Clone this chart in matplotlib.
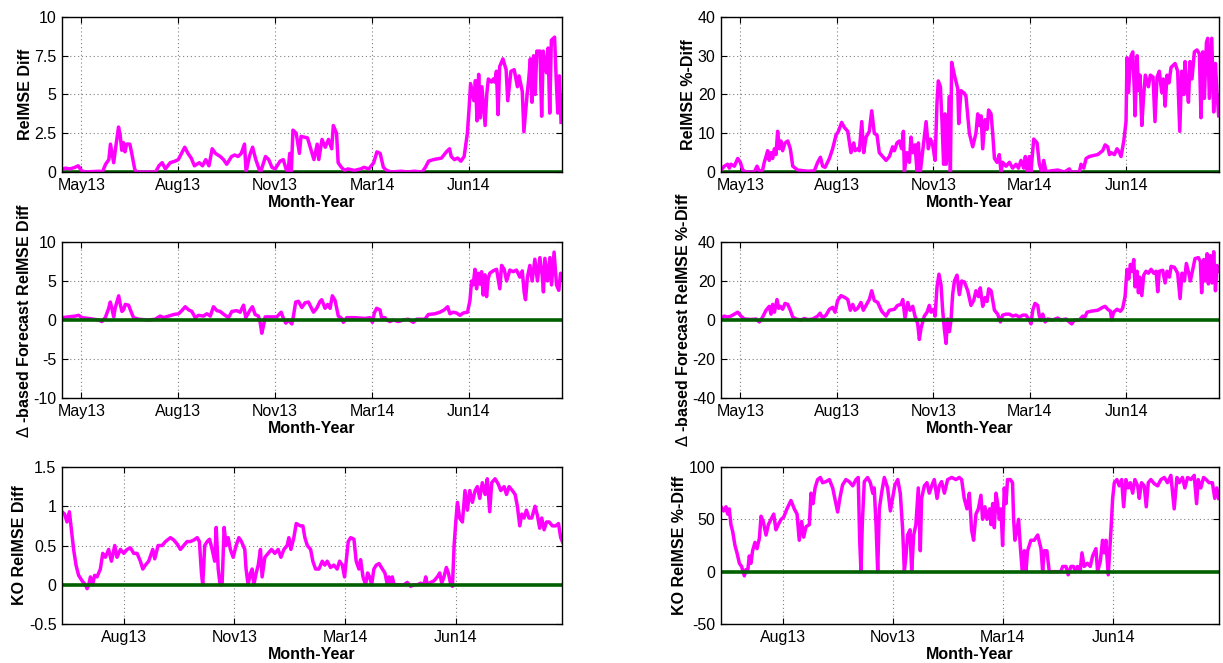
import matplotlib
matplotlib.use('Agg')
import matplotlib.pyplot as plt

''' RelMSE differences over time, six panels (MATLAB style figure) '''

plt.rcParams['font.family'] = ['Liberation Sans', 'DejaVu Sans']

# x tick labels (trading-day index positions below)
month_labels = ['May13', 'Aug13', 'Nov13', 'Mar14', 'Jun14']
month_days = [12, 72, 132, 192, 252]

# (trading day, value)
relmse_diff = [
    (0, 0.15), (2, 0.25), (5, 0.2), (8, 0.3), (10, 0.4), (12, 0.1), (14, 0.0), (23, 0.05), (25, 0.0),
    (27, 0.5), (29, 0.8), (30, 1.8), (32, 0.6), (33, 1.4), (35, 2.9), (36, 2.4), (37, 1.4), (38, 1.9),
    (39, 1.3), (40, 1.8), (42, 1.8), (43, 1.3), (45, 0.2), (46, 0.0), (58, 0.0), (60, 0.4), (62, 0.6),
    (64, 0.2), (67, 0.6), (70, 0.7), (72, 0.8), (74, 1.2), (76, 1.6), (78, 1.2), (80, 0.9), (82, 0.4),
    (85, 0.6), (87, 0.4), (89, 0.8), (91, 0.4), (93, 1.5), (95, 1.2), (98, 1.0), (100, 0.8), (102, 0.5),
    (105, 1.0), (107, 1.1), (109, 1.0), (111, 1.2), (113, 1.8), (114, 0.0), (116, 1.0), (118, 1.6),
    (120, 0.8), (122, 0.2), (123, 0.0), (126, 1.0), (128, 0.8), (130, 0.3), (132, 0.2), (135, 0.7),
    (137, 0.8), (139, 0.1), (140, 0.0), (141, 1.2), (142, 0.0), (143, 2.7), (145, 2.5), (147, 1.2),
    (148, 2.3), (152, 2.2), (156, 0.8), (158, 1.8), (159, 0.8), (161, 2.1), (163, 1.6), (165, 2.1),
    (167, 1.5), (168, 3.0), (170, 2.5), (171, 0.6), (173, 0.3), (175, 0.1), (177, 0.2), (181, 0.1),
    (185, 0.2), (187, 0.3), (190, 0.2), (193, 0.6), (195, 1.3), (197, 1.2), (199, 0.3), (201, 0.1),
    (204, 0.0), (210, 0.05), (214, 0.0), (218, 0.05), (223, 0.0), (225, 0.3), (227, 0.7), (230, 0.8),
    (235, 0.9), (238, 1.3), (240, 1.5), (241, 1.0), (243, 0.8), (245, 0.9), (247, 0.7), (249, 1.0),
    (251, 2.5), (252, 4.0), (253, 5.7), (255, 4.6), (256, 5.9), (257, 3.3), (258, 6.3), (259, 3.5),
    (260, 5.5), (262, 3.0), (263, 5.0), (264, 6.0), (266, 5.8), (267, 6.0), (268, 5.8), (269, 6.5),
    (270, 3.7), (271, 6.8), (273, 7.3), (275, 6.6), (276, 4.6), (278, 6.5), (280, 6.6), (282, 5.5),
    (283, 6.2), (285, 5.2), (286, 2.6), (288, 5.0), (289, 6.0), (290, 7.3), (291, 4.5), (292, 7.5),
    (293, 5.0), (294, 7.8), (296, 7.8), (297, 3.6), (298, 7.8), (300, 6.4), (301, 8.0), (302, 3.8),
    (303, 8.5), (305, 8.7), (306, 6.0), (307, 3.8), (308, 6.2), (309, 3.2)]

relmse_pct = [
    (0, 0.5), (2.1, 1.5), (4.1, 2.0), (5.2, 1.0), (6.2, 2.0), (8.3, 1.5), (10.4, 3.5), (12, 2.5),
    (13.5, 0.5), (15.5, 0.0), (20.7, 0.0), (22.4, 1.5), (23.8, 0.2), (25.9, 0.5), (26.9, 2.5), (28, 4.0),
    (29, 5.5), (30, 3.0), (31.1, 5.0), (32.1, 3.5), (33.2, 6.0), (34.2, 4.5), (35.2, 10.5), (36.3, 6.0),
    (37.3, 8.0), (38.3, 5.5), (39.8, 7.5), (41.5, 8.0), (43.1, 6.0), (44.6, 1.5), (47.7, 0.5), (51.8, 0.3),
    (53.9, 0.2), (58, 0.3), (60.1, 2.5), (61.8, 3.8), (63.2, 1.5), (64.7, 1.2), (67.4, 3.5), (69.4, 6.0),
    (71.5, 9.5), (73, 10.5), (75, 12.8), (76.7, 11.5), (78.8, 10.5), (80.8, 5.0), (82.5, 7.5), (83.3, 5.5),
    (85, 6.0), (86, 5.5), (87.5, 13.0), (88.7, 5.0), (90.2, 9.0), (92.2, 10.5), (93.7, 15.8), (95.3, 10.0),
    (97, 9.5), (98.4, 5.0), (100.5, 4.0), (102.6, 3.0), (104.7, 4.0), (106.7, 6.5), (107.8, 5.5),
    (109.4, 7.5), (110.9, 8.0), (112.3, 6.0), (113.4, 10.5), (114, 0.0), (115.6, 5.0), (117.1, 2.5),
    (118.1, 9.0), (119.2, 5.0), (120.6, 7.0), (121.9, 0.0), (122.7, 7.5), (123.9, 0.0), (126, 7.5),
    (127.5, 13.0), (128.9, 6.0), (130.2, 8.5), (131.6, 7.0), (133.1, 3.0), (134.3, 18.0), (135.1, 23.5),
    (136.4, 22.0), (137.4, 13.0), (138.4, 2.0), (139.3, 15.0), (139.9, 2.0), (140.9, 5.0), (142, 19.5),
    (142.6, 0.0), (143.4, 28.3), (145.1, 25.0), (147.2, 21.5), (147.8, 12.5), (149.2, 21.0), (151.3, 20.3),
    (152.3, 19.5), (154.4, 10.0), (156.5, 6.5), (158.5, 10.0), (159.6, 15.0), (160.6, 12.0), (161.7, 14.5),
    (162.7, 6.0), (164.1, 13.5), (165.4, 11.0), (166.4, 16.0), (167.9, 15.0), (168.9, 10.0), (170, 3.5),
    (171.6, 2.5), (173, 4.5), (174.1, 0.0), (175.1, 2.5), (177.2, 1.5), (179.3, 2.5), (181.3, 1.0),
    (183.4, 2.0), (184.9, 1.0), (186.5, 3.0), (188.2, 1.0), (189.2, 4.0), (190.3, 0.0), (191.7, 4.0),
    (192.7, 0.0), (194.4, 8.5), (196.5, 7.5), (197.9, 2.0), (199.4, 0.0), (200.6, 3.0), (202.1, 0.0),
    (205.2, 0.3), (209.3, 0.5), (213.5, 0.0), (216.6, 0.8), (217.6, 0.0), (222.8, 0.0), (223.8, 2.0),
    (225.5, 1.0), (227, 3.5), (229, 4.0), (234.2, 4.5), (237.3, 5.5), (238.8, 7.0), (240.4, 6.5),
    (241.5, 4.5), (242.5, 5.0), (244.6, 4.5), (246.2, 6.0), (247.7, 5.0), (248.7, 4.0), (250.4, 8.0),
    (251.8, 13.0), (252.4, 29.5), (253.3, 20.5), (254.3, 27.0), (254.9, 30.0), (256, 31.0), (257, 20.5),
    (257.4, 14.5), (258.7, 30.0), (259.5, 21.0), (260.5, 25.0), (261.6, 12.0), (262.8, 20.0),
    (263.8, 25.0), (265.7, 22.0), (266.9, 25.0), (268.6, 24.5), (269.8, 13.0), (271.1, 24.5),
    (272.5, 26.0), (274, 20.5), (275, 24.0), (276.1, 17.0), (277.3, 25.0), (278.5, 23.0), (279.8, 27.0),
    (282.3, 28.0), (283.9, 26.0), (285.2, 10.5), (286.4, 26.0), (287.7, 20.0), (288.5, 28.5),
    (289.5, 23.0), (290.6, 18.0), (291.6, 28.5), (292.8, 24.0), (294.3, 31.0), (295.9, 31.5),
    (297.4, 30.5), (298.4, 14.0), (299.5, 31.0), (300.5, 19.0), (301.8, 33.5), (302.6, 34.5),
    (303.6, 19.0), (305.1, 34.5), (306.3, 15.5), (307.4, 28.0), (308.4, 20.0), (309.4, 14.5)]

delta_diff = [
    (0, 0.3), (4.1, 0.4), (8.2, 0.5), (10.3, 0.6), (12.4, 0.3), (16.5, 0.2), (19.6, 0.1), (22.7, 0.0),
    (24.7, -0.2), (26.8, 0.3), (28.9, 1.5), (29.9, 2.3), (30.9, 1.5), (32, 0.4), (33, 1.6), (35.1, 3.1),
    (36.1, 2.0), (37.1, 1.1), (38.1, 1.3), (39.2, 2.0), (41.2, 1.9), (42.9, 1.0), (44.3, 0.3), (47.4, 0.1),
    (53.6, 0.0), (57.7, 0.1), (60.8, 0.5), (62.9, 0.3), (66, 0.5), (69.1, 0.7), (72.2, 0.8), (74.2, 1.2),
    (76.3, 1.7), (78.4, 1.3), (80.4, 1.1), (82.5, 0.3), (84.5, 0.6), (87.6, 0.5), (89.7, 0.8), (91.8, 0.5),
    (93.8, 1.7), (95.9, 1.2), (97.9, 1.1), (101, 0.6), (103.1, 0.3), (105.2, 1.1), (108.2, 1.2),
    (110.3, 1.0), (112.4, 1.9), (113.8, 0.3), (116.5, 1.3), (117.9, 1.7), (119.6, 0.7), (121.6, 0.5),
    (122.7, -0.3), (123.7, -1.7), (124.7, -0.8), (125.8, 0.4), (129.9, 0.4), (133, 0.4), (135.7, 1.0),
    (137.1, 0.2), (138.6, -0.4), (140.2, 0.0), (142.3, -0.5), (143.3, 0.5), (144.7, 2.3), (146.4, 2.4),
    (148.5, 1.6), (150.5, 2.2), (152.6, 2.3), (155.7, 1.0), (157.7, 1.5), (159.8, 2.4), (160.8, 2.6),
    (162.9, 1.5), (164.5, 2.0), (166, 1.5), (167.4, 3.1), (169.1, 2.5), (171.1, 0.5), (173.2, 0.2),
    (174.2, -0.3), (176.3, 0.3), (181.4, 0.3), (187.6, 0.2), (190.7, 0.3), (192.2, -0.3), (193.4, 0.9),
    (194.8, 1.5), (196.9, 1.3), (197.9, 0.3), (200, 0.3), (201, 0.0), (203.1, -0.2), (205.2, 0.0),
    (208.2, -0.2), (211.3, 0.0), (214.4, 0.1), (217.5, -0.3), (219.6, 0.1), (224.7, 0.1), (226.8, 0.7),
    (230.9, 0.8), (234, 1.0), (236.7, 1.3), (238.8, 1.7), (240.2, 0.8), (242.3, 1.0), (244.3, 0.9),
    (246.4, 0.6), (248.5, 0.9), (251.1, 1.0), (252.6, 2.5), (253.6, 5.0), (254.6, 4.5), (255.7, 6.5),
    (256.7, 4.0), (257.7, 6.0), (258.8, 4.6), (259.8, 6.2), (260.8, 3.2), (261.9, 5.8), (262.9, 3.0),
    (263.9, 5.3), (264.9, 6.0), (267, 6.3), (269.1, 6.5), (271.1, 4.0), (272.2, 7.0), (273.8, 6.5),
    (275.3, 5.0), (277.3, 6.4), (279.4, 6.2), (281.4, 6.4), (283.5, 5.5), (285, 6.3), (286.2, 3.5),
    (287, 2.6), (288.2, 5.5), (289.7, 7.0), (291.1, 5.0), (292.8, 7.8), (294.4, 5.0), (295.9, 8.0),
    (297.3, 5.8), (298.1, 3.6), (299, 7.9), (300.6, 5.0), (302.1, 8.0), (303.1, 4.5), (304.7, 8.7),
    (306.2, 4.5), (307.6, 3.8), (308.7, 6.0), (309.3, 5.3)]

delta_pct = [
    (0, 1.0), (2.1, 2.0), (4.1, 1.5), (6.2, 2.0), (8.3, 3.0), (10.4, 4.0), (12.4, 2.0), (14.5, 0.5),
    (18.7, 0.3), (21.8, 0.5), (23.8, -1.0), (25.9, 1.5), (28, 5.0), (30, 7.0), (31.1, 3.0), (32.1, 8.0),
    (33.2, 4.0), (34.8, 10.5), (35.9, 6.0), (36.9, 7.0), (38.3, 5.5), (39.8, 8.5), (41.5, 8.0), (43.1, 5.0),
    (44.6, 1.5), (46.6, 0.5), (49.7, 0.0), (51.8, 0.8), (53.9, 0.2), (57, 0.5), (60.1, 2.0), (61.6, 3.5),
    (63.2, 1.0), (65.3, 2.5), (67.4, 5.5), (69.4, 6.5), (70.9, 4.0), (72.5, 10.0), (74.6, 12.5),
    (77.1, 11.5), (78.8, 10.5), (80.4, 5.0), (81.9, 8.0), (83.3, 5.0), (85, 6.0), (87, 9.0), (88.5, 5.0),
    (90.2, 7.5), (92.2, 10.5), (93.7, 15.0), (95.3, 10.0), (97.4, 9.0), (99.9, 4.5), (102.6, 2.0),
    (104.7, 5.0), (107.8, 5.5), (109.8, 7.5), (111.9, 8.0), (113, 10.5), (114.4, 1.0), (116.1, 9.0),
    (117.5, 5.0), (119.2, 7.0), (120.6, 2.0), (122.3, -2.0), (123.3, -10.0), (124.4, -4.0), (126.4, 2.0),
    (128.1, 4.0), (129.5, 7.5), (130.6, 4.0), (132.2, 5.5), (133.1, 2.0), (134.3, 17.0), (135.5, 23.5),
    (136.8, 18.0), (137.8, 5.0), (138.9, -5.0), (139.9, -12.0), (140.9, 0.5), (142, -6.0), (143, 0.0),
    (144, 13.0), (145.1, 20.0), (146.7, 23.0), (148.2, 13.0), (149.6, 20.0), (151.3, 19.5), (153.4, 15.0),
    (155.4, 7.5), (157.1, 10.0), (158.5, 15.0), (160, 12.0), (161.2, 16.5), (162.7, 7.0), (164.1, 11.5),
    (165.4, 9.5), (166.4, 16.0), (167.9, 15.0), (170, 5.0), (172, 3.0), (173.7, -1.0), (175.1, 2.5),
    (177.2, 3.0), (179.3, 3.0), (181.3, 2.0), (183.4, 2.5), (185.5, 1.5), (187.6, 2.5), (189.6, 2.5),
    (191.7, 0.0), (192.7, -2.0), (193.8, 5.0), (195.2, 8.5), (196.9, 7.5), (197.9, 2.0), (199, 0.0),
    (200, 3.0), (201.5, -1.0), (203.1, 0.5), (206.2, 0.0), (209.3, 1.0), (211.4, 0.0), (214.5, 0.5),
    (216.6, -1.0), (218, -2.0), (219.7, 0.0), (222.8, 0.0), (224.9, 2.0), (225.9, 1.0), (227.6, 4.0),
    (230, 4.5), (234.2, 5.0), (237.3, 6.5), (238.8, 7.0), (240.4, 5.5), (242.1, 4.5), (242.9, 0.0),
    (244.1, 4.0), (246.2, 5.5), (248.3, 4.5), (249.7, 6.0), (251.2, 12.0), (252.4, 26.0), (253.5, 21.0),
    (254.5, 28.5), (255.5, 25.0), (256.6, 31.0), (257.4, 17.0), (258.7, 25.0), (259.5, 14.0),
    (260.3, 22.0), (261.6, 12.5), (262.8, 23.0), (264.2, 25.0), (265.7, 24.0), (267.4, 26.0),
    (269, 24.0), (270.5, 25.0), (271.5, 14.5), (272.5, 25.0), (274.6, 25.5), (276.1, 19.0), (277.3, 25.0),
    (278.8, 22.0), (279.8, 27.5), (281.9, 27.0), (283.9, 24.0), (285.4, 11.0), (286.6, 24.0),
    (288.1, 20.0), (289.3, 29.0), (290.8, 24.0), (291.8, 20.0), (293.3, 26.0), (294.7, 31.5),
    (296.8, 32.0), (298, 30.0), (298.8, 14.0), (300.1, 31.0), (300.9, 20.0), (302.2, 34.0), (303, 18.5),
    (304.2, 33.0), (305.3, 19.0), (306.3, 35.0), (307.4, 15.0), (308.4, 28.0), (309.4, 25.0)]

ko_diff = [
    (38.5, 0.93), (39.9, 0.9), (41.2, 0.8), (42.5, 0.93), (43.6, 0.7), (44.8, 0.45), (46.1, 0.25),
    (47.5, 0.12), (49.4, 0.05), (51.2, 0.0), (52.1, -0.05), (53, 0.0), (53.9, 0.1), (55.1, 0.0),
    (56.2, 0.12), (57.5, 0.1), (59.3, 0.2), (60.6, 0.4), (62, 0.35), (63.8, 0.45), (65.3, 0.3),
    (67.1, 0.5), (68.3, 0.35), (70.2, 0.45), (72, 0.4), (73.8, 0.45), (75.6, 0.47), (77.4, 0.4),
    (79.2, 0.4), (81, 0.3), (82.3, 0.2), (83.7, 0.25), (85.5, 0.3), (87.7, 0.45), (88.8, 0.33),
    (90.6, 0.5), (92.8, 0.5), (94.6, 0.55), (97.3, 0.6), (99.1, 0.57), (100.9, 0.52), (102.7, 0.45),
    (104.5, 0.5), (106.3, 0.55), (108.1, 0.55), (110, 0.57), (111.8, 0.6), (113, 0.55), (114.1, 0.15),
    (114.8, 0.0), (115.9, 0.5), (117.2, 0.55), (118.5, 0.58), (119.9, 0.45), (121.3, 0.3), (122.1, 0.73),
    (123.2, 0.2), (124.2, 0.0), (125.3, 0.0), (126.4, 0.73), (127.5, 0.5), (128.6, 0.6), (129.8, 0.45),
    (131.3, 0.35), (132.9, 0.5), (134.4, 0.6), (135.8, 0.55), (137.6, 0.45), (138.3, 0.2), (139.4, 0.0),
    (140.7, 0.15), (141.6, 0.2), (142.5, 0.0), (143.8, 0.15), (144.9, 0.25), (146.1, 0.45), (147, 0.1),
    (148.5, 0.35), (150.3, 0.4), (152.1, 0.45), (153.9, 0.4), (155.7, 0.45), (157.2, 0.35), (158.8, 0.45),
    (160.6, 0.5), (161.5, 0.6), (162.6, 0.45), (164.2, 0.6), (165.5, 0.78), (167.8, 0.75), (169.1, 0.75),
    (170.2, 0.6), (171.5, 0.5), (173.3, 0.45), (174.5, 0.3), (176, 0.2), (177.8, 0.2), (179.6, 0.3),
    (181, 0.25), (182.3, 0.3), (184.1, 0.22), (185.9, 0.25), (187.7, 0.2), (189, 0.3), (190.5, 0.25),
    (191.7, 0.1), (192.6, 0.3), (193.7, 0.55), (195, 0.6), (196.8, 0.58), (198, 0.3), (199.5, 0.2),
    (200.4, 0.32), (201.7, 0.1), (203.1, 0.0), (204.2, 0.15), (205.3, 0.1), (206.4, 0.0), (207.6, 0.2),
    (208.9, 0.25), (210.4, 0.27), (212.2, 0.2), (213.6, 0.15), (214.9, 0.0), (215.8, 0.1), (216.7, 0.0),
    (217.6, 0.1), (218.5, 0.0), (223.9, 0.0), (225.7, 0.03), (227.5, -0.02), (229.3, 0.0), (231.2, 0.0),
    (233, 0.02), (234.8, 0.0), (235.7, 0.1), (236.6, 0.0), (238.4, 0.03), (240.2, 0.05), (242, 0.1),
    (243.3, 0.15), (244.4, 0.02), (245.6, 0.1), (246.9, 0.22), (248, 0.15), (249.3, 0.0), (250.2, -0.02),
    (251.1, 0.5), (252, 0.8), (252.9, 1.05), (254.1, 0.85), (255.6, 0.8), (257, 1.2), (258.3, 0.95),
    (259.6, 1.2), (261, 1.05), (262.5, 1.2), (263.7, 1.25), (265, 1.1), (266.4, 1.3), (267.9, 1.15),
    (269.1, 1.35), (270.4, 0.93), (271.5, 1.3), (273.3, 1.35), (275.1, 1.28), (276.4, 1.2), (278.2, 1.25),
    (279.5, 1.15), (280.9, 1.25), (282.7, 1.2), (284.2, 1.15), (285.4, 1.0), (286.7, 0.75), (287.8, 0.9),
    (289, 0.85), (290.3, 0.95), (291.7, 0.85), (293.2, 0.85), (295, 1.0), (296.3, 0.88), (297.5, 0.72),
    (298.6, 0.85), (299.9, 0.7), (301.2, 0.8), (302.6, 0.8), (304.4, 0.75), (306.2, 0.75), (307.7, 0.78),
    (308.9, 0.6), (309.8, 0.55)]

ko_pct = [
    (38.5, 62), (40, 58), (41.2, 62), (42.1, 55), (43, 60), (43.9, 45), (44.9, 38), (46.1, 25), (47.2, 18),
    (48.5, 8), (49.7, 5), (51.2, -4), (52.1, 2), (53, 0), (53.9, 15), (54.8, 8), (55.7, 20), (57, 28),
    (58.1, 22), (59.4, 32), (60.3, 53), (61.5, 48), (63, 35), (64.3, 45), (65.7, 50), (67.2, 55), (68.4, 40),
    (69.7, 45), (71.2, 50), (72.6, 52), (74.4, 60), (76.6, 68), (78.4, 60), (79.9, 55), (81.1, 30),
    (82.4, 48), (83.5, 33), (84.8, 43), (86.6, 45), (87.5, 75), (88.6, 65), (89.7, 80), (91.1, 88),
    (92.6, 90), (93.8, 85), (95.6, 86), (97.5, 88), (99.3, 80), (100.5, 70), (102, 57), (103.4, 72),
    (104.7, 83), (106.5, 88), (108.3, 86), (110.2, 82), (112, 88), (113.2, 90), (114, 30), (114.7, 0),
    (115.4, 45), (116.5, 86), (118.3, 90), (119.8, 85), (121.1, 75), (121.9, 80), (122.9, 45), (123.8, 0),
    (124.7, 60), (125.9, 75), (127.4, 90), (129.2, 80), (130.7, 58), (131.9, 70), (133.2, 83), (134.7, 88),
    (136.1, 75), (137.4, 40), (138.3, 0), (139.2, 15), (140.1, 35), (141.4, 40), (142.3, 0), (143.4, 35),
    (144.6, 45), (145.9, 80), (147, 20), (147.7, 70), (149.2, 82), (150.6, 85), (151.9, 75), (153.2, 82),
    (154.6, 88), (156.1, 70), (157.3, 82), (158.6, 86), (160.1, 75), (161.9, 88), (164.1, 90), (166.4, 88),
    (168.2, 90), (169.5, 88), (170.9, 70), (172.4, 60), (173.7, 75), (174.9, 40), (176, 30), (177.3, 55),
    (178.6, 60), (180, 73), (180.9, 50), (182.2, 62), (183.3, 50), (184.7, 60), (185.5, 45), (186.4, 65),
    (187.3, 42), (188.2, 75), (189.1, 65), (190, 50), (190.9, 60), (191.8, 25), (192.7, 80), (193.6, 65),
    (194.5, 88), (196, 88), (197.2, 85), (197.8, 50), (198.5, 30), (199.6, 40), (200.5, 50), (201.4, 25),
    (202.5, 0), (203.6, 20), (204.5, 0), (205.4, 20), (207.2, 30), (209, 30), (210.9, 35), (212.7, 22),
    (213.6, 0), (214.5, 20), (215.9, 20), (217.2, 0), (218.1, 0), (223.5, 0), (224.5, 5), (226.3, 5),
    (227.5, -3), (229, 5), (230.4, 5), (231.4, 0), (232.6, 5), (234, 0), (235, 18), (236.2, 5), (238, 8),
    (239.5, 5), (240.8, 15), (242.6, 22), (243.5, 0), (245, 10), (246.2, 30), (247.1, 18), (248, 30),
    (249.3, -3), (250.8, 40), (251.7, 70), (252.6, 85), (254, 88), (255.3, 82), (256.6, 88), (257.7, 62),
    (258.9, 88), (260.2, 80), (261.3, 85), (262.6, 75), (263.8, 88), (265.3, 82), (266.2, 70), (267.4, 85),
    (268.9, 82), (270, 62), (271.1, 85), (272.5, 88), (274.4, 84), (276.2, 82), (278, 88), (279.8, 90),
    (281.6, 85), (283.4, 92), (285.2, 60), (286.7, 90), (287.9, 85), (289.7, 90), (291, 80), (292.5, 90),
    (294.3, 88), (296.1, 92), (297.4, 65), (298.3, 88), (299.7, 80), (301.2, 90), (302.6, 88), (304.2, 85),
    (306, 85), (307.3, 70), (308.4, 80), (309.4, 70)]

# y axis limits / ticks per panel
panels = [
    (relmse_diff, 'RelMSE Diff', (0, 10), [0, 2.5, 5, 7.5, 10], ['0', '2.5', '5', '7.5', '10']),
    (relmse_pct, 'RelMSE %-Diff', (0, 40), [0, 10, 20, 30, 40], ['0', '10', '20', '30', '40']),
    (delta_diff, r'$\Delta$ -based Forecast RelMSE Diff', (-10, 10), [-10, -5, 0, 5, 10],
     ['-10', '-5', '0', '5', '10']),
    (delta_pct, r'$\Delta$ -based Forecast RelMSE %-Diff', (-40, 40), [-40, -20, 0, 20, 40],
     ['-40', '-20', '0', '20', '40']),
    (ko_diff, 'KO RelMSE Diff', (-0.5, 1.5), [-0.5, 0, 0.5, 1, 1.5], ['-0.5', '0', '0.5', '1', '1.5']),
    (ko_pct, 'KO RelMSE %-Diff', (-50, 100), [-50, 0, 50, 100], ['-50', '0', '50', '100']),
]


def draw_panel(ax, series, ylabel, ylim, yticks, yticklabels, row):
    days = [p[0] for p in series]
    vals = [p[1] for p in series]

    # top row: zero sits on the bottom edge, the curve is drawn over it
    line_z = 5 if row == 0 else 3
    ax.plot(days, vals, color='#ff00ff', linewidth=2.5, zorder=line_z)
    ax.axhline(0, color='#006000', linewidth=2.6, zorder=4)

    if row == 2:
        ax.set_xlim(38.5, 309.6)
        ax.set_xticks(month_days[1:])
        ax.set_xticklabels(month_labels[1:])
    else:
        ax.set_xlim(0, 309.6)
        ax.set_xticks(month_days)
        ax.set_xticklabels(month_labels)

    ax.set_ylim(*ylim)
    ax.set_yticks(yticks)
    ax.set_yticklabels(yticklabels)

    ax.grid(True, linestyle=(0, (1, 2.5)), color='#808080', linewidth=0.8)
    ax.tick_params(direction='in', top=True, right=True, length=4, width=0.8,
                   labelsize=11.5, pad=4)
    for s in ax.spines.values():
        s.set_linewidth(1.0)
        s.set_zorder(6)

    ax.set_xlabel('Month-Year', fontsize=11.5, fontweight='bold', labelpad=2)
    ax.set_ylabel(ylabel, fontsize=11.5, fontweight='bold', labelpad=1)


def main():
    fig = plt.figure(figsize=(12.23, 6.63), dpi=100)

    col_left = [62 / 1223, 721 / 1223]
    col_width = [500 / 1223, 498 / 1223]
    # (top, bottom) pixel rows of each axes box
    rows_px = [(17, 172), (242, 398), (467, 624)]

    for i, (series, ylabel, ylim, yticks, ylabels) in enumerate(panels):
        r, c = divmod(i, 2)
        top, bot = rows_px[r]
        ax = fig.add_axes([col_left[c], 1 - bot / 663, col_width[c], (bot - top) / 663])
        draw_panel(ax, series, ylabel, ylim, yticks, ylabels, r)

    fig.savefig('out.png', dpi=100)


if __name__ == "__main__":
    main()
